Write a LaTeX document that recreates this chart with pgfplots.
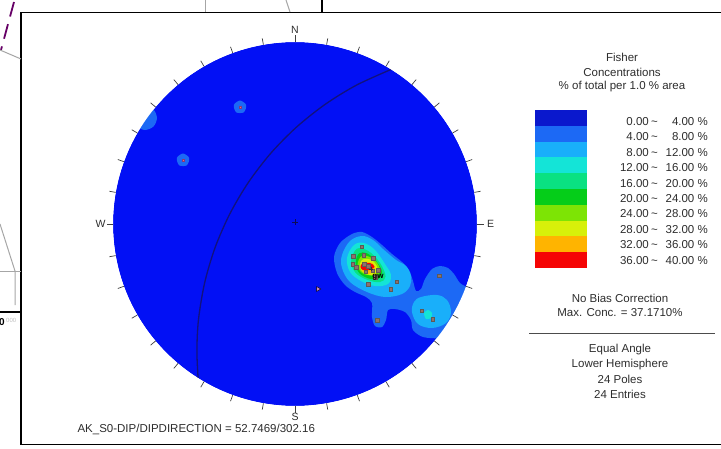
\documentclass[border=0pt]{standalone}
\usepackage{pgfplots}
\pgfplotsset{compat=1.18}
\usepackage{fontspec}
\setmainfont{Liberation Sans}
\definecolor{c0}{RGB}{2,16,245}
\definecolor{c0leg}{RGB}{10,24,205}
\definecolor{c1}{RGB}{28,105,245}
\definecolor{c2}{RGB}{25,175,250}
\definecolor{c3}{RGB}{20,228,215}
\definecolor{c4}{RGB}{10,225,130}
\definecolor{c5}{RGB}{5,205,25}
\definecolor{c6}{RGB}{125,228,5}
\definecolor{c7}{RGB}{215,240,10}
\definecolor{c8}{RGB}{255,180,0}
\definecolor{c9}{RGB}{245,5,5}
\definecolor{gc}{RGB}{18,18,125}
\definecolor{poleedge}{RGB}{95,90,85}
\definecolor{polefill}{RGB}{145,112,108}
\definecolor{trifill}{RGB}{205,135,190}
\definecolor{txt}{RGB}{45,45,45}
\begin{document}
\begin{tikzpicture}
\begin{axis}[width=721pt,height=448pt,scale only axis,xmin=0,xmax=721,ymin=0,ymax=448,
  y dir=reverse,hide axis,clip=false]
\fill[c0] (axis cs:295,224) circle[radius=182];
% 4-8 %
\addplot[fill=c1,draw=none,smooth cycle,tension=0.5] coordinates {
 (352,234) (362,232) (372,237) (382,245) (392,254) (402,262) (409,270) (413,281) (416,291)
 (421,289) (425,279) (432,269) (440,266) (448,268) (454,274) (460,283) (470,292) (466,322)
 (458,324) (452,332) (440,338) (423,337) (413,330) (411,320) (405,312) (395,309) (388,310)
 (386,320) (382,327) (375,326) (372,317) (372,303) (366,297) (355,292) (345,285) (337,273)
 (334,257) (340,243)};
\addplot[fill=c1,draw=none,smooth cycle] coordinates {(240,100.5) (246.2,105) (243.8,112.3) (236.2,112.3) (233.8,105)};
\addplot[fill=c1,draw=none,smooth cycle] coordinates {(183,153.5) (189.2,158) (186.8,165.3) (179.2,165.3) (176.8,158)};
\addplot[fill=c1,draw=none,smooth cycle] coordinates {(157,118) (153.5,126.5) (145,130) (136.5,126.5) (133,118) (136.5,109.5) (145,106) (153.5,109.5)};
% 8-12 %
\addplot[fill=c2,draw=none,smooth cycle,tension=0.6] coordinates {
 (350,241) (362,236) (373,240) (383,249) (396,260) (406,266) (411,276) (410,286) (402,294)
 (385,297) (367,292) (350,282) (342,268) (342,255)};
\addplot[fill=c2,draw=none,smooth cycle,tension=0.6] coordinates {
 (412,312) (414,302) (421,297) (437,295) (447,300) (451,312) (446,323) (432,328) (418,324)};
% 12-16 %
\addplot[fill=c3,draw=none,smooth cycle,tension=0.6] coordinates {
 (354,245) (364,243) (375,250) (385,264) (391,275) (388,284) (375,286) (361,281) (350,272) (347,258)};
\addplot[fill=c3,draw=none,smooth cycle] coordinates {(424,313) (428,310) (432,313) (431,318) (426,319)};
% 16-20 %
\addplot[fill=c4,draw=none,smooth cycle,tension=0.6] coordinates {
 (356.8,248.8) (368.3,251) (379.8,262.6) (385.6,276.4) (379.8,282.1) (367.2,279.8) (355.7,272.9) (351.1,261.4)};
% 20-24 %
\addplot[fill=c5,draw=none,smooth cycle,tension=0.6] coordinates {
 (359.1,253.4) (367.2,253.4) (376.4,261.4) (382.1,271.8) (378.7,278.7) (369.5,278.7) (359.1,272.9) (355.7,262.6)};
% 24-28 %
\addplot[fill=c6,draw=none,smooth cycle,tension=0.6] coordinates {
 (361.2,256.4) (368.4,256.4) (376.8,262.4) (380.4,272) (374.4,275.6) (362.4,273.2) (357.6,264.8)};
% 28-32 %
\addplot[fill=c7,draw=none,smooth cycle,tension=0.6] coordinates {
 (362.3,259.8) (371,259.8) (377.3,267.3) (374.8,274.8) (364.8,273.5) (359.8,267.3)};
% 32-36 %
\addplot[fill=c8,draw=none,smooth cycle,tension=0.6] coordinates {
 (363.4,262.1) (372.5,263.4) (375.1,269.9) (368.6,273.8) (362.1,269.9)};
% 36-40 %
\addplot[fill=c9,draw=none,smooth cycle,tension=0.6] coordinates {
 (361.1,264.6) (370.2,263.2) (374.4,266.7) (368.8,270.2) (361.8,269.5)};
% great circle of mean plane 52.7/302
\addplot[gc,line width=1.3pt,smooth] coordinates {
 (391.4,69.3) (356.5,85.1) (325.2,104.3) (296.4,127.2) (270.7,153.3) (248.3,182.5)
 (229.7,214.1) (215.0,247.8) (204.6,283.0) (198.5,319.3) (196.9,350.7) (198.1,378.0)};
% poles
\addplot[only marks,mark=square*,mark size=1.8pt,mark options={draw=poleedge,fill=polefill,line width=0.6pt}] coordinates {
 (361.7,246.7) (353.3,256.5) (363.7,255) (373.3,258.5) (352.7,264) (356,267) (365.7,271.7)
 (372.7,270.7) (378.3,270) (368.5,284.3) (396.8,281.7) (390.7,289.2) (439.3,275.7)
 (421.7,310.7) (432.7,319) (377.3,320) (375,277.5) (364,264) (368,266.5)};
\addplot[only marks,mark=square*,mark size=1.2pt,mark options={draw=c9!50!c1,fill=c9!60!white}] coordinates {
 (240,107) (183,160)};
\addplot[only marks,mark=triangle*,mark size=2.8pt,mark options={rotate=-90,draw=none,fill=trifill}] coordinates {(318,289)};
\addplot[only marks,mark=+,mark size=2.8pt,mark options={draw=black!30!gc,line width=0.8pt}] coordinates {(295,222)};
\addplot[only marks,mark=+,mark size=2.2pt,mark options={draw=black!80,line width=0.6pt}] coordinates {(371,269)};
\end{axis}
\begin{scope}[x=1pt,y=-1pt,shift={(0pt,448pt)}]
 \fill[white,even odd rule] (295,224) circle[radius=182pt] (295,224) circle[radius=235pt];
 \foreach \a in {0,10,...,350} \draw[line width=0.7pt,black!75] (295,224) ++(\a:182pt) -- ++(\a:6.5pt);
 \node[txt,font=\fontsize{10.5}{12}\selectfont] at (295,30) {N};
 \node[txt,font=\fontsize{10.5}{12}\selectfont] at (295,417) {S};
 \node[txt,font=\fontsize{10.5}{12}\selectfont] at (100.5,224) {W};
 \node[txt,font=\fontsize{10.5}{12}\selectfont] at (490.5,224) {E};
 \node[black,font=\fontsize{8}{9}\selectfont\bfseries] at (378,277) {gw};
 \node[txt,anchor=west,font=\fontsize{11.5}{13}\selectfont] at (74,429) {AK\_S0-DIP/DIPDIRECTION = 52.7469/302.16};
 % legend
 \begin{scope}[font=\fontsize{11.5}{13}\selectfont,txt]
  \node at (622,57) {Fisher};
  \node at (622,72) {Concentrations};
  \node at (622,87) {\% of total per 1.0 \% area};
  \fill[c0leg] (535,110) rectangle (587,125.8);
  \fill[c1] (535,125.8) rectangle (587,141.6);
  \fill[c2] (535,141.6) rectangle (587,157.4);
  \fill[c3] (535,157.4) rectangle (587,173.2);
  \fill[c4] (535,173.2) rectangle (587,189);
  \fill[c5] (535,189) rectangle (587,204.8);
  \fill[c6] (535,204.8) rectangle (587,220.6);
  \fill[c7] (535,220.6) rectangle (587,236.4);
  \fill[c8] (535,236.4) rectangle (587,252.2);
  \fill[c9] (535,252.2) rectangle (587,268);
  \foreach \lo/\hi [count=\i from 0] in {0.00/4.00,4.00/8.00,8.00/12.00,12.00/16.00,16.00/20.00,20.00/24.00,24.00/28.00,28.00/32.00,32.00/36.00,36.00/40.00}{
    \pgfmathsetmacro\yy{121.5+15.4*\i}
    \node[anchor=east,inner sep=0pt] at (649,\yy) {\lo};
    \node[inner sep=0pt] at (654.5,\yy+1.7) {\symbol{"007E}};
    \node[anchor=east,inner sep=0pt] at (708,\yy) {\hi\ \%};
  }
  \node at (620,298) {No Bias Correction};
  \node at (620,313) {Max. Conc. = 37.1710\%};
  \draw[black!70,line width=0.8pt] (529,333) -- (715,333);
  \node at (620,350) {Equal Angle};
  \node at (620,365) {Lower Hemisphere};
  \node at (620,379) {24 Poles};
  \node at (620,394) {24 Entries};
 \end{scope}
 % frame
 \draw[black,line width=1.3pt] (722,12.7) -- (21,12.7) -- (21,444.5) -- (722,444.5);
 % screenshot remnants outside the frame
 \draw[black!35,line width=1pt] (205,0) -- (205,12);
 \draw[black!35,line width=1pt] (286,0) -- (290,12);
 \draw[black,line width=1.5pt] (322,0) -- (322,12);
 \draw[violet!80!black,line width=1.8pt,dash pattern=on 15pt off 8pt] (14,2) -- (1,50);
 \draw[black!35,line width=1pt] (0,50) -- (21,59);
 \draw[black!35,line width=1pt] (0,224) -- (15,271) -- (15,305);
 \draw[black!35,line width=1pt] (0,271) -- (21,271);
 \draw[black,line width=1.2pt] (0,312) -- (21,312);
 \node[anchor=west,inner sep=0pt,font=\fontsize{10}{11}\selectfont\bfseries] at (-1,322) {0};
 \node[anchor=west,inner sep=0pt,black!25,font=\fontsize{6}{7}\selectfont] at (6,320) {000};
\end{scope}
\pgfresetboundingbox
\path[use as bounding box] (0,0) rectangle (721pt,448pt);
\end{tikzpicture}
\end{document}
